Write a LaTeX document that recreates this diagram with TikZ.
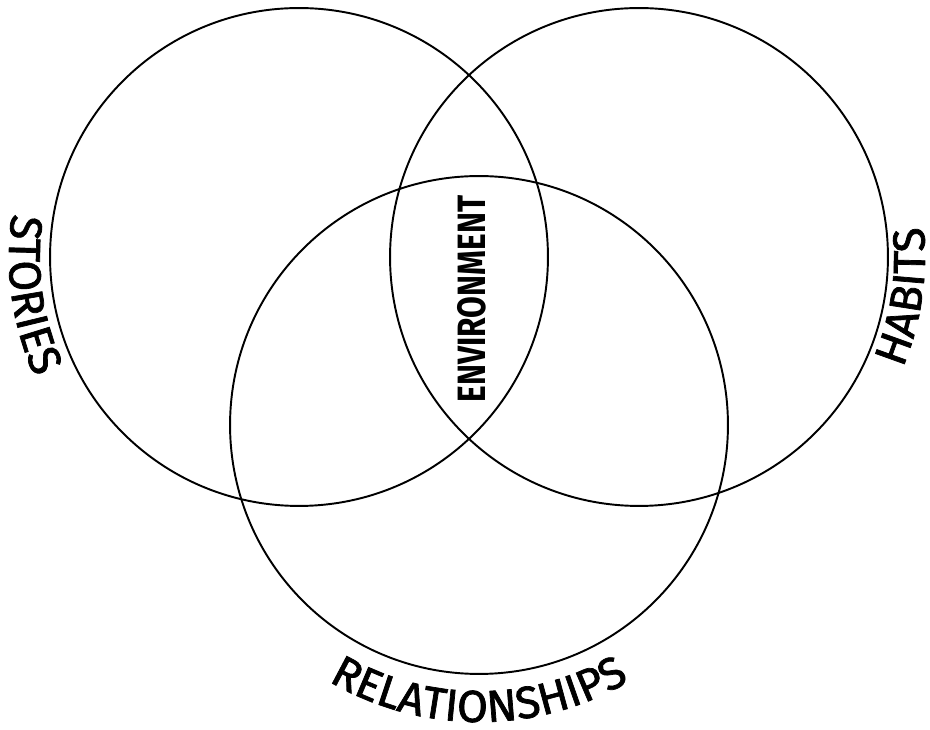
\documentclass[tikz,border=0pt]{standalone}
\usepackage{fontspec}
\setmainfont{Fira Sans}
\newfontfamily\envfont[FakeStretch=0.8]{Fira Sans}
\newfontfamily\setfamily[FakeBold=1.6]{Fira Sans}
\usepackage{tikz}
\usetikzlibrary{decorations.text}
\newcommand{\setfont}{\setfamily\fontsize{25.5}{30}\selectfont}

\begin{document}
\begin{tikzpicture}[
    x=0.02cm, y=0.02cm,
    ring/.style={draw, circle, line width=1.1pt, minimum size=9.96cm,
                 inner sep=0pt},
    core/.style={rotate=90, inner sep=0pt,
                 font=\envfont\bfseries\fontsize{22.5}{26}\selectfont},
    setname/.style={decorate, decoration={text along path,
                    text align=center, text={|\setfont|#1}}},
]
\useasboundingbox (0,0) rectangle (930,730);
\node[ring] (stories) at (299,473) {};
\node[ring] (habits) at (639,473) {};
\node[ring] (relations) at (479,305) {};
\node[core] (env) at (471.5,431) {ENVIRONMENT};

\path[setname=STORIES] ([shift={(148:290)}]stories.center)
    arc[start angle=148, end angle=228, radius=290];
\path[setname=HABITS] ([shift={(-48.4:286)}]habits.center)
    arc[start angle=-48.4, end angle=31.6, radius=286];
\path[setname=RELATIONSHIPS] ([shift={(230:297)}]relations.center)
    arc[start angle=230, end angle=310, radius=297];
\end{tikzpicture}
\end{document}
